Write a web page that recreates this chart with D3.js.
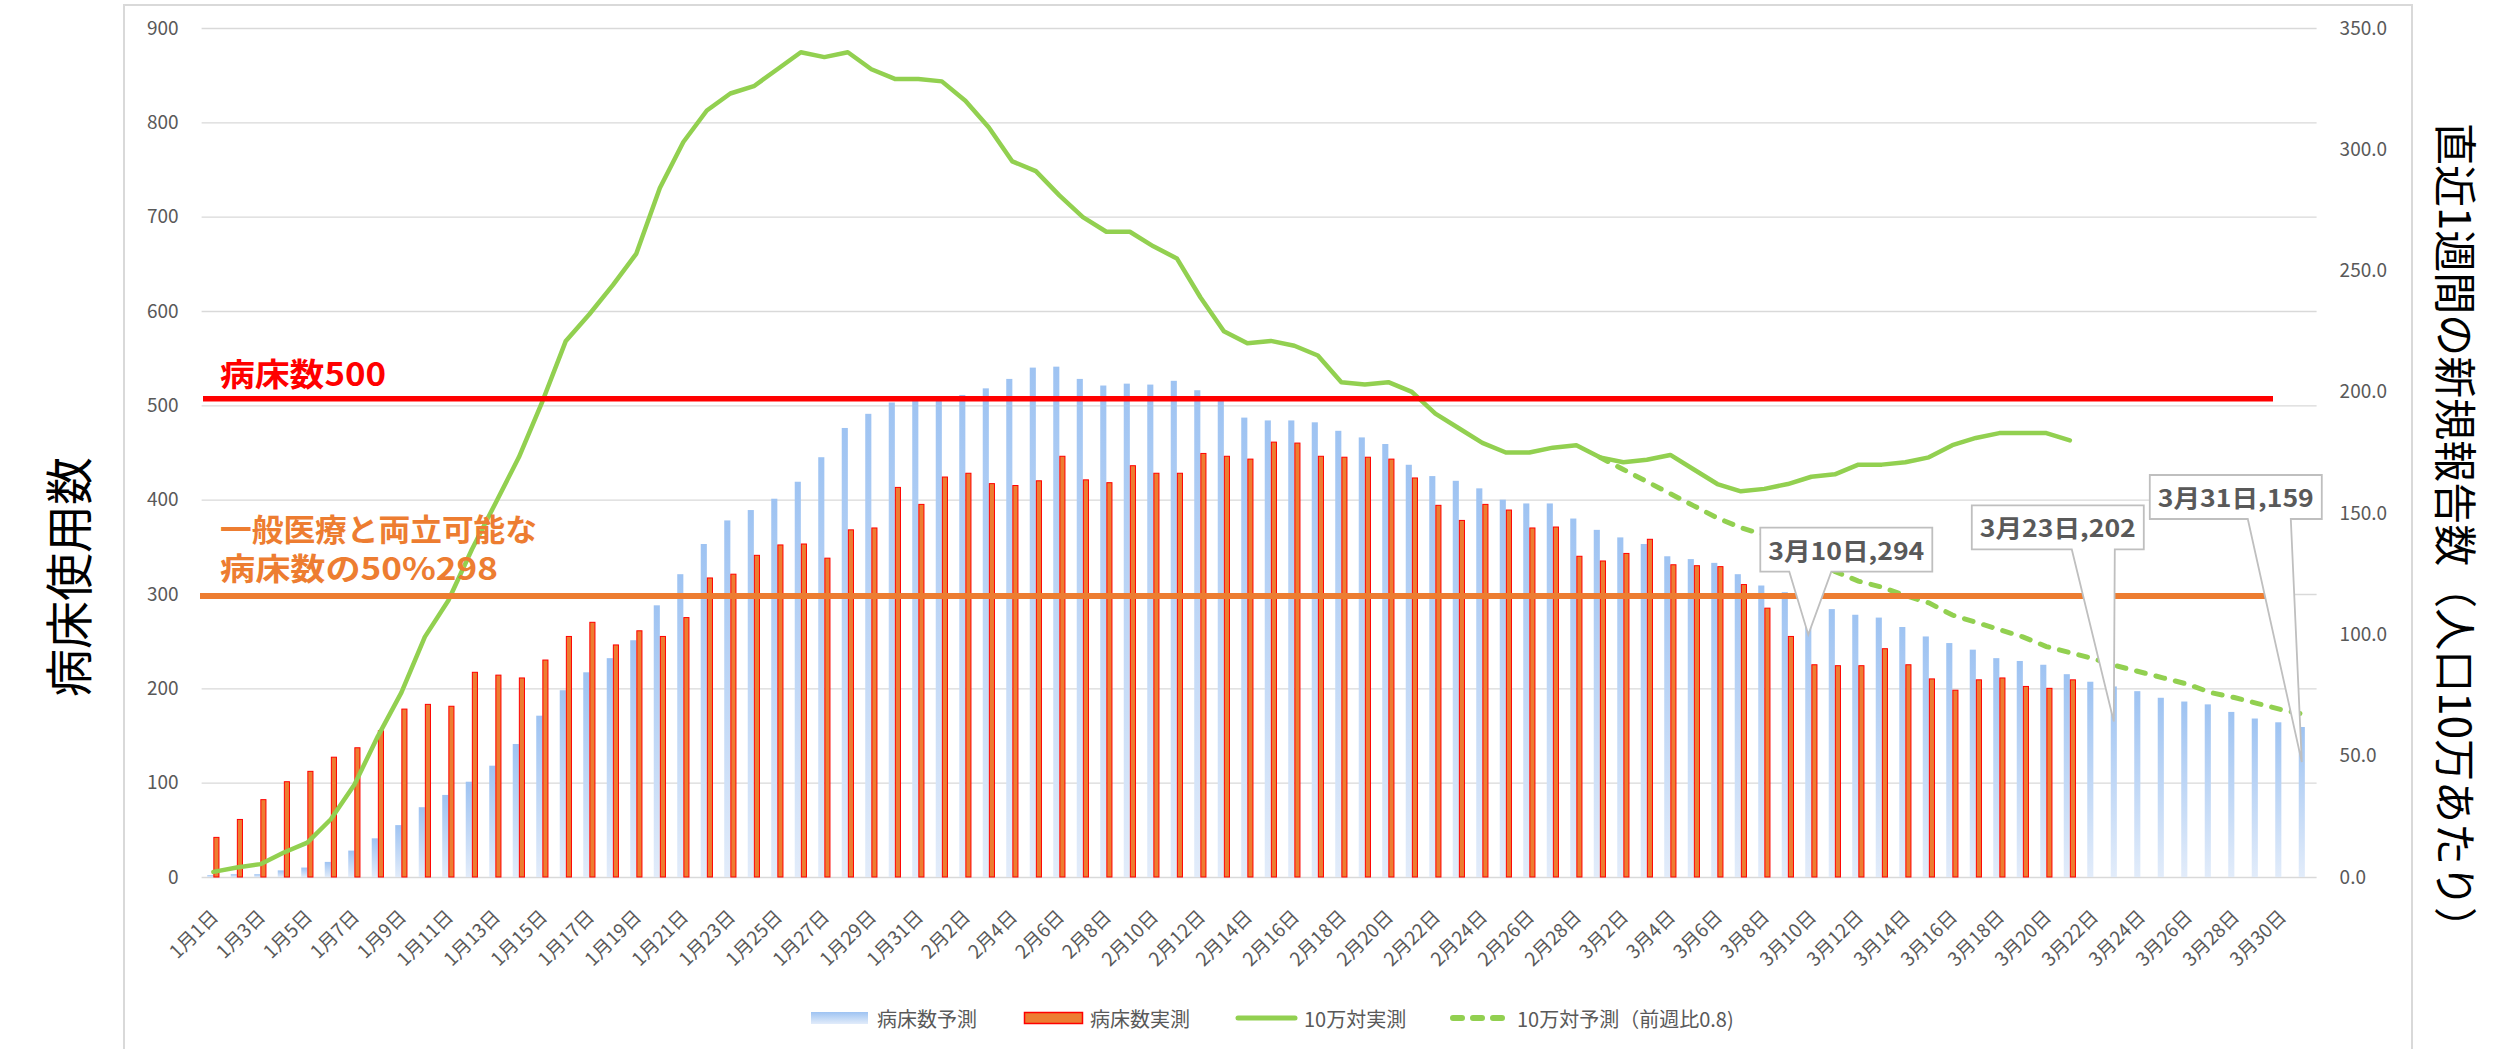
<!DOCTYPE html>
<html>
<head>
<meta charset="utf-8">
<script src="https://cdn.jsdelivr.net/npm/d3@7"></script>
<style>
  body { margin: 0; background: #fff; }
  svg { display: block; }
  text { font-family: "Noto Sans CJK JP", "Noto Sans", sans-serif; }
</style>
</head>
<body>
<div id="chart"></div>
<script>
// ---- data ----
var monthNames = ['1月', '2月', '3月'];
var monthDays = [31, 28, 31];

// 病床数予測 (Jan 1 - Mar 31)
var predBeds = [
  2, 3, 3, 7, 10, 16, 28, 41, 55, 74, 87, 101, 118, 141, 171, 198, 217, 232, 251, 288, 321, 353, 378, 389, 401, 419, 445, 476, 491, 503, 505,
  507, 511, 518, 528, 540, 541, 528, 521, 523, 522, 526, 516, 505, 487, 484, 484, 482, 473, 466, 459, 437, 425, 420, 412, 400, 396, 396, 380,
  368, 360, 353, 340, 337, 333, 321, 309, 302, 294, 284, 278, 275, 265, 255, 248, 241, 232, 229, 225, 215, 207, 202, 197, 190, 186, 183, 175, 168, 164, 159
];
// 病床数実測 (Jan 1 - Mar 21)
var actualBeds = [
  42, 61, 82, 101, 112, 127, 137, 155, 178, 183, 181, 217, 214, 211, 230, 255, 270, 246, 261, 255, 275, 317, 321, 341, 352, 353, 338, 368, 370, 413, 395,
  424, 428, 417, 415, 420, 446, 421, 418, 436, 428, 428, 449, 446, 443, 461, 460, 446, 445, 445, 443, 423, 394, 378, 395, 389, 370, 371, 340,
  335, 343, 358, 331, 330, 329, 310, 285, 255, 225, 224, 224, 242, 225, 210, 198, 209, 211, 202, 200, 209
];
// 10万対実測 (Jan 1 - Mar 21)
var rateActual = [
  2.1, 3.9, 5.3, 10.1, 14.2, 23.8, 38, 58, 76, 99, 114, 135, 154, 173, 196, 221, 232, 244, 257, 284, 303, 316, 323, 326, 333, 340, 338, 340, 333, 329, 329,
  328, 320, 309, 295, 291, 281, 272, 266, 266, 260, 255, 239, 225, 220, 221, 219, 215, 204, 203, 204, 200, 191, 185, 179, 175, 175, 177, 178,
  173, 171, 172, 174, 168, 162, 159, 160, 162, 165, 166, 170, 170, 171, 173, 178, 181, 183, 183, 183, 180
];
// 10万対予測（前週比0.8) (Mar 1 - Mar 31)
var ratePredStart = '3月1日';
var ratePred = [
  173, 168, 163, 158, 153, 148, 144, 141, 136, 131, 126, 122, 119.5, 116, 113, 108, 105, 102, 99, 95, 92.5, 90, 87, 84.5, 82, 79.5, 76, 74, 71.5, 69, 67
];

var leftTicks = [0, 100, 200, 300, 400, 500, 600, 700, 800, 900];
var rightTicks = [0, 50, 100, 150, 200, 250, 300, 350];
var seriesNames = ['病床数予測', '病床数実測', '10万対実測', '10万対予測（前週比0.8)'];
var limitValues = [507, 298];
var calloutDays = ['3月10日', '3月23日', '3月31日'];

// ---- layout ----
var W = 2499, H = 1049;
var plot = { left: 201.6, right: 2316.6, top: 28, bottom: 877 };
var grey = '#595959';

var categories = [];
monthNames.forEach(function (m, mi) {
  for (var d = 1; d <= monthDays[mi]; d++) categories.push(m + d + '日');
});

var svg = d3.select('#chart').append('svg')
  .attr('width', W)
  .attr('height', H);

var defs = svg.append('defs');
var grad = defs.append('linearGradient')
  .attr('id', 'blueGrad')
  .attr('x1', 0).attr('y1', 0).attr('x2', 0).attr('y2', 1);
grad.append('stop').attr('offset', '0%').attr('stop-color', '#9ec3f2');
grad.append('stop').attr('offset', '100%').attr('stop-color', '#e2ecfa');

svg.append('rect').attr('width', W).attr('height', H).attr('fill', '#fff');

// chart border
svg.append('rect')
  .attr('x', 124).attr('y', 5)
  .attr('width', 2288).attr('height', 1100)
  .attr('fill', 'none')
  .attr('stroke', '#d9d9d9')
  .attr('stroke-width', 2);

var x = d3.scaleBand().domain(categories)
  .range([plot.left, plot.right])
  .paddingInner(0.48)
  .paddingOuter(0.24);
var xs = d3.scaleBand().domain(['pred', 'act']).range([0, x.bandwidth()]);
var y = d3.scaleLinear().domain([0, 900]).range([plot.bottom, plot.top]);
var y2 = d3.scaleLinear().domain([0, 350]).range([plot.bottom, plot.top]);

// gridlines + left axis
var gLeft = svg.append('g')
  .attr('transform', 'translate(' + plot.left + ',0)')
  .call(d3.axisLeft(y).tickValues(leftTicks)
    .tickSize(-(plot.right - plot.left))
    .tickPadding(23));
gLeft.select('.domain').remove();
gLeft.selectAll('line').attr('stroke', '#d9d9d9').attr('stroke-width', 1.3);
gLeft.selectAll('text')
  .attr('fill', grey)
  .style('font-size', '19px');

// right axis
var gRight = svg.append('g')
  .attr('transform', 'translate(' + plot.right + ',0)')
  .call(d3.axisRight(y2).tickValues(rightTicks)
    .tickSize(0)
    .tickPadding(23)
    .tickFormat(d3.format('.1f')));
gRight.select('.domain').remove();
gRight.selectAll('text')
  .attr('fill', grey)
  .style('font-size', '19px');

// x labels (every other day)
svg.append('g').selectAll('text')
  .data(categories.filter(function (d, i) { return i % 2 === 0; }))
  .enter().append('text')
  .attr('transform', function (d) {
    return 'translate(' + (x(d) + x.bandwidth() / 2 + 6) + ',918) rotate(-45)';
  })
  .attr('text-anchor', 'end')
  .attr('fill', grey)
  .style('font-size', '19px')
  .text(function (d) { return d; });

// bars
svg.append('g').selectAll('rect')
  .data(predBeds)
  .enter().append('rect')
  .attr('x', function (d, i) { return x(categories[i]) + xs('pred'); })
  .attr('y', function (d) { return y(d); })
  .attr('width', xs.bandwidth())
  .attr('height', function (d) { return plot.bottom - y(d); })
  .attr('fill', 'url(#blueGrad)');

svg.append('g').selectAll('rect')
  .data(actualBeds)
  .enter().append('rect')
  .attr('x', function (d, i) { return x(categories[i]) + xs('act') + 0.5; })
  .attr('y', function (d) { return y(d); })
  .attr('width', xs.bandwidth() - 1)
  .attr('height', function (d) { return plot.bottom - y(d); })
  .attr('fill', '#ed7d31')
  .attr('stroke', '#ff0000')
  .attr('stroke-width', 1);

// lines
var line = d3.line()
  .x(function (d) { return x(d.c) + x.bandwidth() / 2; })
  .y(function (d) { return y2(d.v); });

var predOffset = categories.indexOf(ratePredStart);
svg.append('path')
  .datum(ratePred.map(function (v, i) { return { c: categories[predOffset + i], v: v }; }))
  .attr('d', line)
  .attr('fill', 'none')
  .attr('stroke', '#92d050')
  .attr('stroke-width', 5)
  .attr('stroke-linecap', 'round')
  .attr('stroke-dasharray', '9,11');

svg.append('path')
  .datum(rateActual.map(function (v, i) { return { c: categories[i], v: v }; }))
  .attr('d', line)
  .attr('fill', 'none')
  .attr('stroke', '#92d050')
  .attr('stroke-width', 4.5)
  .attr('stroke-linejoin', 'round')
  .attr('stroke-linecap', 'round');

// limit lines (shapes drawn on top)
svg.append('line')
  .attr('x1', 203).attr('x2', 2273)
  .attr('y1', y(limitValues[0])).attr('y2', y(limitValues[0]))
  .attr('stroke', '#ff0000').attr('stroke-width', 5.5);
svg.append('line')
  .attr('x1', 200).attr('x2', 2270)
  .attr('y1', y(limitValues[1])).attr('y2', y(limitValues[1]))
  .attr('stroke', '#ed7d31').attr('stroke-width', 6);

svg.append('text')
  .attr('x', 220).attr('y', 386)
  .attr('fill', '#ff0000')
  .attr('font-weight', 'bold')
  .attr('textLength', 166)
  .attr('lengthAdjust', 'spacingAndGlyphs')
  .style('font-size', '32px')
  .text('病床数500');
var orangeLabel = svg.append('text')
  .attr('fill', '#ed7d31')
  .attr('font-weight', 'bold')
  .style('font-size', '31px');
orangeLabel.append('tspan')
  .attr('x', 220).attr('y', 541)
  .attr('textLength', 317)
  .attr('lengthAdjust', 'spacingAndGlyphs')
  .text('一般医療と両立可能な');
orangeLabel.append('tspan')
  .attr('x', 220).attr('y', 580)
  .attr('textLength', 278)
  .attr('lengthAdjust', 'spacingAndGlyphs')
  .text('病床数の50%298');

// callouts on predicted bars
var calloutLayout = [
  { dx: -48, dy: -107, b1: 29, b2: 71 },
  { dx: -142, dy: -216, b1: 100, b2: 143 },
  { dx: -152, dy: -287, b1: 98, b2: 141 }
];
var boxW = 172, boxH = 44;
calloutDays.forEach(function (day, k) {
  var i = categories.indexOf(day);
  var v = predBeds[i];
  var tx = x(day) + xs('pred') + xs.bandwidth() / 2;
  var ty = y(v) + 35;
  var L = calloutLayout[k];
  var bx = tx + L.dx, by = ty + L.dy;
  var g = svg.append('g');
  g.append('path')
    .attr('d', 'M' + bx + ',' + by + 'H' + (bx + boxW) + 'V' + (by + boxH) +
      'H' + (bx + L.b2) + 'L' + tx + ',' + ty + 'L' + (bx + L.b1) + ',' + (by + boxH) +
      'H' + bx + 'Z')
    .attr('fill', '#fff')
    .attr('stroke', '#bfbfbf')
    .attr('stroke-width', 1.8);
  g.append('text')
    .attr('x', bx + boxW / 2).attr('y', by + 32)
    .attr('text-anchor', 'middle')
    .attr('fill', grey)
    .attr('font-weight', 'bold')
    .attr('textLength', 156)
    .attr('lengthAdjust', 'spacingAndGlyphs')
    .style('font-size', '24px')
    .text(day + ',' + v);
});

// axis titles
svg.append('text')
  .attr('transform', 'translate(66,577) rotate(-90)')
  .attr('text-anchor', 'middle')
  .attr('dominant-baseline', 'central')
  .attr('fill', '#000')
  .style('font-size', '48px')
  .text('病床使用数');
svg.append('text')
  .attr('transform', 'translate(2458,536) rotate(90)')
  .attr('text-anchor', 'middle')
  .attr('dominant-baseline', 'central')
  .attr('fill', '#000')
  .attr('textLength', 826)
  .attr('lengthAdjust', 'spacingAndGlyphs')
  .style('font-size', '43px')
  .text('直近1週間の新規報告数（人口10万あたり）');

// legend
var legend = svg.append('g');
var ly = 1018;
legend.append('rect')
  .attr('x', 811).attr('y', ly - 6).attr('width', 57).attr('height', 12)
  .attr('fill', 'url(#blueGrad)');
legend.append('rect')
  .attr('x', 1024.5).attr('y', ly - 5.5).attr('width', 58).attr('height', 11)
  .attr('fill', '#ed7d31').attr('stroke', '#ff0000').attr('stroke-width', 1.5);
legend.append('line')
  .attr('x1', 1238).attr('x2', 1295).attr('y1', ly).attr('y2', ly)
  .attr('stroke', '#92d050').attr('stroke-width', 5).attr('stroke-linecap', 'round');
legend.append('line')
  .attr('x1', 1453).attr('x2', 1505).attr('y1', ly).attr('y2', ly)
  .attr('stroke', '#92d050').attr('stroke-width', 6).attr('stroke-linecap', 'round')
  .attr('stroke-dasharray', '9,11');
var legendTextX = [877, 1090, 1304, 1517];
legend.selectAll('text')
  .data(seriesNames)
  .enter().append('text')
  .attr('x', function (d, i) { return legendTextX[i]; })
  .attr('y', ly)
  .attr('dominant-baseline', 'central')
  .attr('fill', grey)
  .style('font-size', '20px')
  .text(function (d) { return d; });
</script>
</body>
</html>
